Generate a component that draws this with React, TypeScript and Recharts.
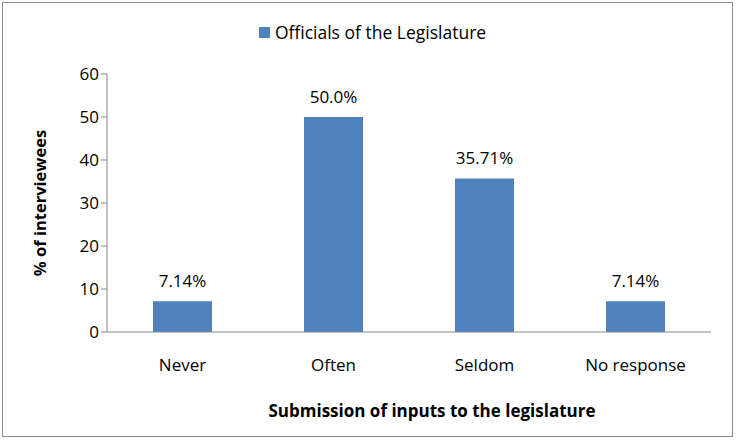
import React from "react";
import { BarChart, Bar, XAxis, YAxis, Legend, LabelList } from "recharts";

const categories = ["Never", "Often", "Seldom", "No response"];
const values = [7.14, 50.0, 35.71, 7.14];
const valueLabels = ["7.14%", "50.0%", "35.71%", "7.14%"];
const yTicks = [0, 10, 20, 30, 40, 50, 60];
const seriesName = "Officials of the Legislature";

const data = categories.map((c, i) => ({ name: c, value: values[i], label: valueLabels[i] }));

const FONT = "'Open Sans', sans-serif";
const BLUE = "#4F81BD";
const AXIS = "#868686";

const renderLegend = () => (
  <div style={{ display: "flex", justifyContent: "center", alignItems: "center", fontFamily: FONT, fontSize: 17.5, color: "#000", height: 24, paddingLeft: 34 }}>
    <span style={{ display: "inline-block", width: 11, height: 11, background: BLUE, marginRight: 5 }} />
    <span>{seriesName}</span>
  </div>
);

export default function App() {
  return (
    <div style={{ position: "absolute", left: 0, top: 0, width: 737, height: 441, background: "#fff" }}>
      <div style={{ position: "absolute", left: 2, top: 2, width: 731, height: 435, border: "1px solid #8c8c8c", boxSizing: "border-box" }} />
      <BarChart
        width={737}
        height={441}
        data={data}
        margin={{ top: 50, right: 26, bottom: 0, left: 0 }}
      >
        <Legend verticalAlign="top" align="center" content={renderLegend} wrapperStyle={{ top: 20 }} />
        <YAxis
          width={107}
          domain={[0, 60]}
          ticks={yTicks}
          interval={0}
          tickLine={{ stroke: AXIS }}
          tickSize={6}
          axisLine={{ stroke: AXIS }}
          tick={{ fontFamily: FONT, fontSize: 17, fill: "#000" }}
          label={{ value: "% of interviewees", angle: -90, position: "insideLeft", offset: 40, style: { fontFamily: FONT, fontSize: 16.5, fontWeight: 700, fill: "#000", textAnchor: "middle" } }}
        />
        <XAxis
          dataKey="name"
          height={109}
          tickLine={false}
          axisLine={{ stroke: AXIS }}
          tick={{ fontFamily: FONT, fontSize: 17, fill: "#000", dy: 19 }}
          label={{ value: "Submission of inputs to the legislature", position: "insideBottom", offset: 24, dx: 23, style: { fontFamily: FONT, fontSize: 17, fontWeight: 700, fill: "#000" } }}
        />
        <Bar dataKey="value" name={seriesName} fill={BLUE} barSize={59} isAnimationActive={false}>
          <LabelList dataKey="label" position="top" offset={14} style={{ fontFamily: FONT, fontSize: 17, fill: "#000" }} />
        </Bar>
      </BarChart>
    </div>
  );
}
